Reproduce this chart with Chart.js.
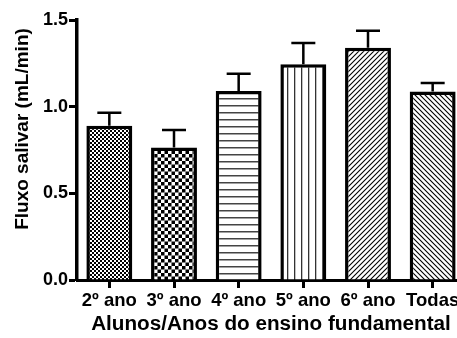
<!DOCTYPE html>
<html>
<head>
<meta charset="utf-8">
<script src="https://cdn.jsdelivr.net/npm/chart.js@4"></script>
<style>
  html, body { margin: 0; padding: 0; background: #fff; overflow: hidden; }
  #wrap { width: 470px; height: 338px; }
</style>
</head>
<body>
<div id="wrap"><canvas id="chart" width="470" height="338"></canvas></div>
<script>
// ==============================
// DATA
// ==============================
const categories = ["2º ano", "3º ano", "4º ano", "5º ano", "6º ano", "Todas"];
const means      = [0.89, 0.765, 1.09, 1.245, 1.34, 1.088];
const errUpper   = [0.965, 0.866, 1.19, 1.368, 1.438, 1.136];
const yTicks     = [0.0, 0.5, 1.0, 1.5];
const patternKinds = ["fineCheck", "coarseCheck", "hLines", "vLines", "diagUp", "diagDown"];
const yTitle = "Fluxo salivar (mL/min)";
const xTitle = "Alunos/Anos do ensino fundamental";

const FONT = "'Liberation Sans', Arial, sans-serif";

// ==============================
// PATTERNS
// ==============================
function makePattern(kind) {
  const c = document.createElement("canvas");
  const g = c.getContext("2d");
  let s = 8;
  if (kind === "fineCheck") s = 4;
  if (kind === "coarseCheck") s = 7;
  if (kind === "hLines" || kind === "vLines") s = 7;
  if (kind === "diagUp" || kind === "diagDown") s = 5;
  c.width = s; c.height = s;
  g.fillStyle = "#fff";
  g.fillRect(0, 0, s, s);
  g.fillStyle = "#000";
  g.strokeStyle = "#000";
  if (kind === "fineCheck") {
    g.fillRect(0, 0, 2, 2);
    g.fillRect(2, 2, 2, 2);
  } else if (kind === "coarseCheck") {
    g.fillRect(0, 0, 3.5, 3.5);
    g.fillRect(3.5, 3.5, 3.5, 3.5);
  } else if (kind === "hLines") {
    g.fillStyle = "#444";
    g.fillRect(0, 0, s, 1.5);
  } else if (kind === "vLines") {
    g.fillStyle = "#333";
    g.fillRect(0, 0, 1.3, s);
  } else {
    g.lineWidth = 1.1;
    g.beginPath();
    if (kind === "diagUp") {
      g.moveTo(-1, s + 1); g.lineTo(s + 1, -1);
      g.moveTo(-1, 1); g.lineTo(1, -1);
      g.moveTo(s - 1, s + 1); g.lineTo(s + 1, s - 1);
    } else {
      g.moveTo(-1, -1); g.lineTo(s + 1, s + 1);
      g.moveTo(s - 1, -1); g.lineTo(s + 1, 1);
      g.moveTo(-1, s - 1); g.lineTo(1, s + 1);
    }
    g.stroke();
  }
  return g.createPattern(c, "repeat");
}

const ctx = document.getElementById("chart").getContext("2d");
const fills = patternKinds.map(makePattern);

// ==============================
// ERROR BARS (upper only) + Y TITLE
// ==============================
const errorBarPlugin = {
  id: "errorBars",
  afterDatasetsDraw(chart) {
    const meta = chart.getDatasetMeta(0);
    const y = chart.scales.y;
    const c = chart.ctx;
    c.save();
    c.strokeStyle = "#000";
    c.lineWidth = 2.5;
    meta.data.forEach((bar, i) => {
      const top = y.getPixelForValue(means[i]);
      const hi  = y.getPixelForValue(errUpper[i]);
      c.beginPath();
      c.moveTo(bar.x, top);
      c.lineTo(bar.x, hi);
      c.moveTo(bar.x - 12, hi);
      c.lineTo(bar.x + 12, hi);
      c.stroke();
    });
    c.restore();
  },
  afterDraw(chart) {
    // y title sits a bit below the axis middle in the original
    const c = chart.ctx;
    c.save();
    c.translate(23, 129);
    c.rotate(-Math.PI / 2);
    c.font = "bold 19px " + FONT;
    c.fillStyle = "#000";
    c.textAlign = "center";
    c.textBaseline = "middle";
    c.fillText(yTitle, 0, 0);
    c.restore();
  }
};

// ==============================
// CHART
// ==============================
new Chart(ctx, {
  type: "bar",
  data: {
    labels: categories,
    datasets: [{
      data: means,
      backgroundColor: fills,
      borderColor: "#000",
      borderWidth: 3.5,
      borderSkipped: "start",
      barPercentage: 0.71,
      categoryPercentage: 1
    }]
  },
  options: {
    responsive: false,
    animation: false,
    layout: { padding: { top: 20, right: 5, bottom: 0, left: 0 } },
    plugins: { legend: { display: false }, tooltip: { enabled: false } },
    scales: {
      x: {
        offset: true,
        grid: { offset: false, drawOnChartArea: false, drawTicks: true, tickLength: 8, tickWidth: 3, tickColor: "#000" },
        border: { display: true, color: "#000", width: 3 },
        ticks: { color: "#000", padding: 2, maxRotation: 0, autoSkip: false, font: { family: FONT, size: 18.5, weight: "bold" } },
        title: { display: true, text: xTitle, color: "#000", padding: { top: 0, bottom: 1 }, font: { family: FONT, size: 20.7, weight: "bold" } },
        afterFit: s => { s.height = 58; }
      },
      y: {
        min: 0,
        max: 1.5,
        afterBuildTicks: s => { s.ticks = yTicks.map(v => ({ value: v })); },
        grid: { drawOnChartArea: false, drawTicks: true, tickLength: 8, tickWidth: 3, tickColor: "#000" },
        border: { display: true, color: "#000", width: 3.5 },
        ticks: { color: "#000", padding: 1, callback: v => Number(v).toFixed(1), font: { family: FONT, size: 18, weight: "bold" } },
        title: { display: false },
        afterFit: s => { s.width = 77; }
      }
    }
  },
  plugins: [errorBarPlugin]
});
</script>
</body>
</html>
